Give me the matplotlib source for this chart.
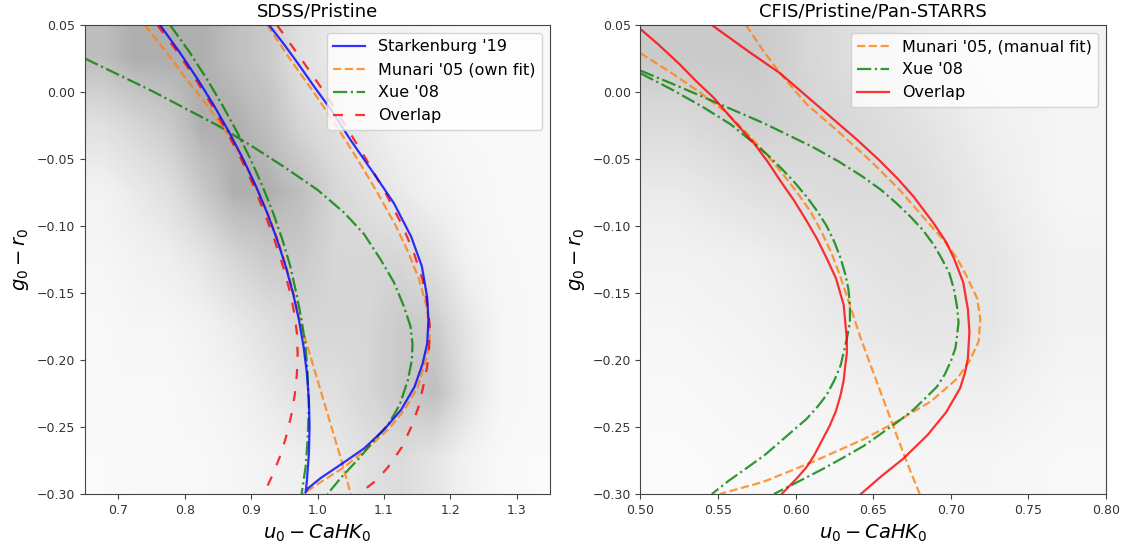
import numpy as np
import matplotlib
matplotlib.use("Agg")
import matplotlib.pyplot as plt

# ---- star density (relative), rows top -> bottom
sdss_extent = [0.65, 1.35, -0.30, 0.05]
sdss_density = [
    [7, 8, 8, 8, 7, 6, 4, 3, 2, 2, 1.5, 1, 1, 1],
    [4, 5, 6, 8, 8, 7, 5, 4, 3, 2, 1.5, 1, 1, 1],
    [2, 3, 4, 6, 8, 8, 7, 5, 4, 3, 2, 1.5, 1, 1],
    [1.5, 2, 2.5, 3.5, 5, 6, 6, 5, 5, 5, 4, 2, 1.2, 1],
    [1, 1.5, 1.5, 2, 3, 4, 5, 5, 5, 6, 6, 3.5, 1.5, 1],
    [1, 1, 1, 1.5, 2, 3, 4, 4, 5, 6, 7, 4, 1.5, 1],
    [0.8, 1, 1, 1, 1.5, 2, 2.5, 3, 4, 4.5, 3.5, 2, 1, 0.8],
]
cfis_extent = [0.50, 0.80, -0.30, 0.05]
cfis_density = [
    [6, 6, 4.5, 3, 2, 2],
    [4.5, 5.5, 5, 4, 2.5, 1.5],
    [3, 4, 4.5, 4.5, 3, 1.5],
    [2, 2.5, 3.5, 4, 3.5, 2],
    [1.5, 2, 3, 3.5, 3.5, 2],
    [1, 1.5, 2, 2.5, 2.5, 1.5],
    [0.7, 1, 1.2, 1.5, 1.5, 1],
]

# ---- SDSS/Pristine selection curves (u0-CaHK0, g0-r0)
stark_x = [0.763, 0.792, 0.819, 0.844, 0.867, 0.888, 0.907, 0.924, 0.939, 0.952,
           0.963, 0.972, 0.979, 0.984, 0.987, 0.988, 0.987, 0.984, 0.982,
           0.985, 1.005, 1.035, 1.070, 1.100, 1.126, 1.146, 1.158, 1.165, 1.167,
           1.165, 1.157, 1.141, 1.115, 1.085, 1.050, 1.020, 0.995, 0.971, 0.949, 0.927]
stark_y = [0.050, 0.030, 0.010, -0.010, -0.030, -0.050, -0.070, -0.090, -0.110, -0.130,
           -0.150, -0.170, -0.190, -0.210, -0.230, -0.250, -0.270, -0.290, -0.299,
           -0.296, -0.288, -0.278, -0.266, -0.252, -0.237, -0.220, -0.203, -0.188, -0.170,
           -0.153, -0.130, -0.108, -0.083, -0.061, -0.036, -0.013, 0.004, 0.021, 0.036, 0.050]

munari1_x = [0.740, 0.772, 0.802, 0.834, 0.863, 0.887, 0.907, 0.925, 0.940, 0.953,
             0.964, 0.976, 0.991, 1.006, 1.021, 1.036, 1.050]
munari1_y = [0.050, 0.030, 0.010, -0.010, -0.030, -0.050, -0.070, -0.090, -0.110, -0.130,
             -0.150, -0.175, -0.200, -0.225, -0.250, -0.275, -0.300]
munari2_x = [0.924, 0.958, 0.994, 1.028, 1.060, 1.090, 1.118, 1.137, 1.153, 1.164,
             1.169, 1.168, 1.163, 1.151, 1.131, 1.108, 1.075, 1.040, 1.005, 0.978]
munari2_y = [0.050, 0.025, 0.000, -0.025, -0.050, -0.075, -0.100, -0.120, -0.140, -0.160,
             -0.180, -0.190, -0.200, -0.220, -0.237, -0.251, -0.266, -0.280, -0.291, -0.300]

xue1_x = [0.650, 0.700, 0.750, 0.800, 0.850, 0.900, 0.950, 1.000, 1.040, 1.070,
          1.095, 1.115, 1.130, 1.140, 1.143, 1.142, 1.136, 1.124, 1.108, 1.085,
          1.065, 1.035, 1.015]
xue1_y = [0.025, 0.013, 0.001, -0.012, -0.025, -0.040, -0.056, -0.073, -0.090, -0.106,
          -0.125, -0.142, -0.160, -0.175, -0.188, -0.200, -0.215, -0.233, -0.247, -0.260,
          -0.272, -0.288, -0.300]
xue2_x = [0.778, 0.807, 0.833, 0.857, 0.879, 0.899, 0.917, 0.933, 0.947, 0.959,
          0.968, 0.976, 0.982, 0.985, 0.987, 0.985, 0.982, 0.976]
xue2_y = [0.050, 0.030, 0.010, -0.010, -0.030, -0.050, -0.070, -0.090, -0.110, -0.130,
          -0.150, -0.170, -0.190, -0.210, -0.235, -0.260, -0.280, -0.300]

overlap1_x = [0.759, 0.789, 0.816, 0.841, 0.864, 0.885, 0.904, 0.920, 0.935, 0.948,
              0.959, 0.965, 0.969, 0.970, 0.969, 0.966, 0.961, 0.954, 0.945, 0.933, 0.919]
overlap1_y = [0.050, 0.030, 0.010, -0.010, -0.030, -0.050, -0.070, -0.090, -0.110, -0.130,
              -0.150, -0.165, -0.180, -0.195, -0.210, -0.225, -0.240, -0.255, -0.270, -0.285, -0.300]
overlap2_x = [0.939, 0.975, 1.010, 1.042, 1.073, 1.102, 1.128, 1.145, 1.158, 1.166,
              1.169, 1.168, 1.165, 1.159, 1.152, 1.141, 1.127, 1.106, 1.088, 1.062]
overlap2_y = [0.050, 0.025, 0.000, -0.025, -0.050, -0.075, -0.100, -0.120, -0.140, -0.160,
              -0.175, -0.190, -0.205, -0.220, -0.235, -0.250, -0.265, -0.280, -0.290, -0.300]

# ---- CFIS/Pristine/Pan-STARRS selection curves
c_munari1_x = [0.500, 0.519, 0.538, 0.555, 0.568, 0.580, 0.591, 0.601, 0.610, 0.617,
               0.623, 0.628, 0.635, 0.642, 0.650, 0.658, 0.666, 0.674, 0.680]
c_munari1_y = [0.029, 0.015, 0.000, -0.015, -0.030, -0.045, -0.060, -0.075, -0.090, -0.105,
               -0.120, -0.135, -0.159, -0.184, -0.209, -0.234, -0.259, -0.283, -0.300]
c_munari2_x = [0.568, 0.579, 0.590, 0.607, 0.626, 0.648, 0.667, 0.682, 0.695, 0.704,
               0.710, 0.717, 0.719, 0.718, 0.712, 0.704, 0.687, 0.665, 0.644, 0.611,
               0.579, 0.551]
c_munari2_y = [0.050, 0.031, 0.014, -0.009, -0.028, -0.051, -0.073, -0.093, -0.110, -0.124,
               -0.137, -0.154, -0.169, -0.186, -0.201, -0.214, -0.231, -0.246, -0.259, -0.276,
               -0.291, -0.300]

c_xue1_x = [0.500, 0.525, 0.547, 0.579, 0.611, 0.628, 0.643, 0.655, 0.665, 0.674,
            0.682, 0.689, 0.694, 0.699, 0.702, 0.704, 0.705, 0.704, 0.703, 0.700,
            0.696, 0.691, 0.684, 0.676, 0.666, 0.655, 0.644, 0.632, 0.618, 0.603, 0.586]
c_xue1_y = [0.016, 0.004, -0.007, -0.023, -0.041, -0.052, -0.063, -0.073, -0.083, -0.093,
            -0.103, -0.114, -0.124, -0.135, -0.147, -0.160, -0.172, -0.182, -0.191, -0.201,
            -0.211, -0.220, -0.228, -0.237, -0.246, -0.255, -0.264, -0.272, -0.281, -0.290, -0.300]
c_xue2_x = [0.500, 0.520, 0.540, 0.558, 0.573, 0.582, 0.590, 0.599, 0.607, 0.614,
            0.620, 0.625, 0.629, 0.632, 0.634, 0.635, 0.635, 0.633, 0.631, 0.629,
            0.625, 0.620, 0.614, 0.607, 0.599, 0.590, 0.580, 0.568, 0.557, 0.546]
c_xue2_y = [0.014, 0.002, -0.011, -0.024, -0.038, -0.047, -0.056, -0.067, -0.078, -0.089,
            -0.100, -0.112, -0.124, -0.136, -0.147, -0.159, -0.172, -0.184, -0.194, -0.204,
            -0.215, -0.226, -0.235, -0.244, -0.252, -0.261, -0.271, -0.281, -0.290, -0.300]

c_overlap1_x = [0.500, 0.512, 0.525, 0.536, 0.547, 0.559, 0.573, 0.582, 0.590, 0.599,
                0.607, 0.614, 0.620, 0.626, 0.631, 0.632, 0.633, 0.633, 0.632, 0.631,
                0.629, 0.626, 0.622, 0.617, 0.612, 0.607, 0.601, 0.591]
c_overlap1_y = [0.047, 0.035, 0.021, 0.008, -0.004, -0.020, -0.038, -0.052, -0.066, -0.081,
                -0.096, -0.110, -0.124, -0.139, -0.159, -0.172, -0.184, -0.195, -0.204, -0.215,
                -0.226, -0.238, -0.249, -0.260, -0.271, -0.280, -0.288, -0.300]
c_overlap2_x = [0.546, 0.570, 0.590, 0.606, 0.622, 0.639, 0.654, 0.666, 0.676, 0.689,
                0.697, 0.702, 0.708, 0.711, 0.712, 0.711, 0.709, 0.706, 0.697, 0.685,
                0.669, 0.656, 0.642]
c_overlap2_y = [0.050, 0.030, 0.014, -0.002, -0.018, -0.035, -0.051, -0.065, -0.078, -0.098,
                -0.112, -0.124, -0.142, -0.162, -0.179, -0.199, -0.210, -0.221, -0.239, -0.256,
                -0.274, -0.286, -0.300]

BLUE = (0.0, 0.0, 1.0, 0.8)
ORANGE = (1.0, 0.5, 0.055, 0.8)
GREEN = (0.0, 0.5, 0.0, 0.8)
RED = (1.0, 0.0, 0.0, 0.8)
LW = 1.6

plt.rcParams['axes.edgecolor'] = '#444444'
plt.rcParams['xtick.color'] = '#444444'
plt.rcParams['ytick.color'] = '#444444'
plt.rcParams['xtick.labelcolor'] = '#333333'
plt.rcParams['ytick.labelcolor'] = '#333333'

fig = plt.figure(figsize=(11.26, 5.48), dpi=100)
ax1 = fig.add_axes([0.0755, 0.0985, 0.413, 0.8558])
ax2 = fig.add_axes([0.5688, 0.0985, 0.4134, 0.8558])

# background star clouds
for ax, dens, ext in [(ax1, sdss_density, sdss_extent), (ax2, cfis_density, cfis_extent)]:
    ax.imshow(np.array(dens), extent=ext, origin='upper', cmap='Greys',
              vmin=0, vmax=19, interpolation='bilinear', aspect='auto', zorder=0)

# left panel
ax1.plot(stark_x, stark_y, '-', color=BLUE, lw=LW, label="Starkenburg '19", zorder=3)
ax1.plot(munari1_x, munari1_y, '--', color=ORANGE, lw=LW, label="Munari '05 (own fit)", zorder=2)
ax1.plot(munari2_x, munari2_y, '--', color=ORANGE, lw=LW, zorder=2)
ax1.plot(xue1_x, xue1_y, '-.', color=GREEN, lw=LW, label="Xue '08", zorder=2)
ax1.plot(xue2_x, xue2_y, '-.', color=GREEN, lw=LW, zorder=2)
ax1.plot(overlap1_x, overlap1_y, color=RED, lw=LW, dashes=(4.5, 5.5), label="Overlap", zorder=2)
ax1.plot(overlap2_x, overlap2_y, color=RED, lw=LW, dashes=(4.5, 5.5), zorder=2)
ax1.set_xlim(0.65, 1.35)
ax1.set_ylim(-0.30, 0.05)
ax1.set_title("SDSS/Pristine", fontsize=13)

# right panel
ax2.plot(c_munari1_x, c_munari1_y, '--', color=ORANGE, lw=LW, label="Munari '05, (manual fit)")
ax2.plot(c_munari2_x, c_munari2_y, '--', color=ORANGE, lw=LW)
ax2.plot(c_xue1_x, c_xue1_y, '-.', color=GREEN, lw=LW, label="Xue '08")
ax2.plot(c_xue2_x, c_xue2_y, '-.', color=GREEN, lw=LW)
ax2.plot(c_overlap1_x, c_overlap1_y, '-', color=RED, lw=LW, label="Overlap")
ax2.plot(c_overlap2_x, c_overlap2_y, '-', color=RED, lw=LW)
ax2.set_xlim(0.50, 0.80)
ax2.set_ylim(-0.30, 0.05)
ax2.set_title("CFIS/Pristine/Pan-STARRS", fontsize=13)

for ax in (ax1, ax2):
    ax.set_xlabel(r"$u_0 - CaHK_0$", fontsize=14)
    ax.set_ylabel(r"$g_0 - r_0$", fontsize=14)
    ax.tick_params(labelsize=9)
    ax.legend(loc='upper right', fontsize=11.5)

fig.savefig("out.png", dpi=100)
